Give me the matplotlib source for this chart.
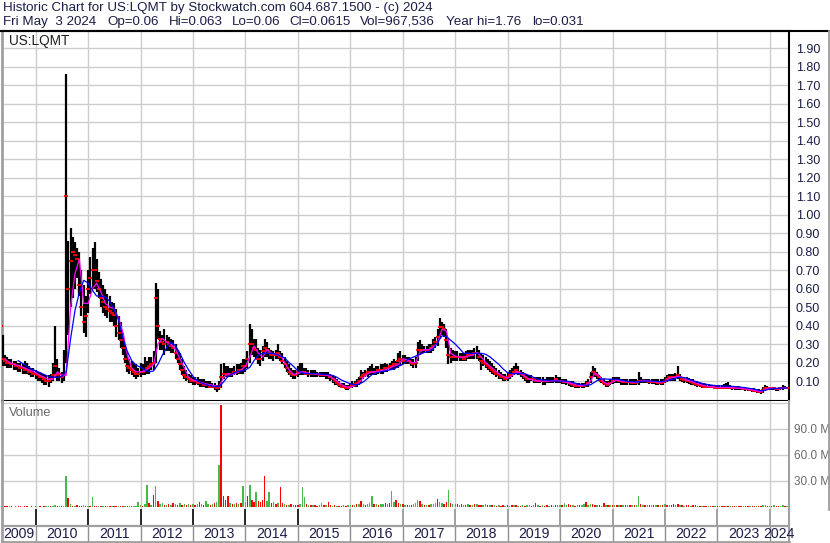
import matplotlib
matplotlib.use('Agg')

import matplotlib.pyplot as plt
import matplotlib.dates as mdates
from matplotlib.lines import Line2D
import numpy as np
import pandas as pd

W, H = 830, 543
plt.rcParams['font.family'] = ['Liberation Sans', 'DejaVu Sans']

# half-month bars (1st and 15th of each month), May 2009 .. May 2024
price_hi = [
    0.43, 0.35, 0.24, 0.23, 0.22, 0.22, 0.21, 0.21, 0.20, 0.20, 0.19, 0.21, 0.20, 0.18, 0.17, 0.17,
    0.16, 0.15, 0.15, 0.14, 0.13, 0.13, 0.13, 0.14, 0.20, 0.40, 0.22, 0.17, 0.15, 0.27, 1.76, 0.86, 0.93, 0.88, 0.85, 0.82, 0.80, 0.70, 0.62, 0.56,
    0.70, 0.77, 0.82, 0.85, 0.76, 0.69, 0.65, 0.62, 0.60, 0.57, 0.56, 0.53, 0.52, 0.49, 0.45, 0.42, 0.36, 0.30, 0.26, 0.22, 0.21, 0.20, 0.19, 0.17,
    0.20, 0.19, 0.23, 0.21, 0.23, 0.23, 0.26, 0.63, 0.60, 0.37, 0.35, 0.38, 0.35, 0.34, 0.33, 0.32, 0.30, 0.27, 0.25, 0.22, 0.18, 0.16, 0.14, 0.13,
    0.12, 0.12, 0.12, 0.11, 0.11, 0.11, 0.10, 0.10, 0.10, 0.09, 0.09, 0.08, 0.10, 0.19, 0.20, 0.18, 0.18, 0.17, 0.17, 0.18, 0.19, 0.19, 0.20, 0.22,
    0.22, 0.26, 0.41, 0.38, 0.33, 0.33, 0.28, 0.27, 0.29, 0.33, 0.31, 0.28, 0.27, 0.26, 0.27, 0.30, 0.26, 0.25, 0.23, 0.21, 0.19, 0.17, 0.16, 0.16,
    0.18, 0.20, 0.20, 0.17, 0.17, 0.16, 0.16, 0.16, 0.16, 0.15, 0.15, 0.15, 0.15, 0.15, 0.15, 0.14, 0.13, 0.12, 0.11, 0.10, 0.09, 0.09, 0.08, 0.08,
    0.09, 0.10, 0.10, 0.11, 0.12, 0.16, 0.15, 0.16, 0.17, 0.18, 0.19, 0.17, 0.18, 0.18, 0.19, 0.19, 0.20, 0.19, 0.20, 0.21, 0.22, 0.21, 0.25, 0.26,
    0.24, 0.24, 0.23, 0.23, 0.22, 0.22, 0.23, 0.31, 0.32, 0.30, 0.29, 0.29, 0.30, 0.30, 0.33, 0.34, 0.38, 0.44, 0.42, 0.41, 0.38, 0.33, 0.28, 0.27,
    0.26, 0.26, 0.25, 0.25, 0.25, 0.26, 0.27, 0.27, 0.27, 0.28, 0.29, 0.27, 0.25, 0.24, 0.23, 0.22, 0.21, 0.20, 0.18, 0.17, 0.16, 0.15, 0.14, 0.14,
    0.15, 0.16, 0.17, 0.18, 0.20, 0.18, 0.16, 0.15, 0.14, 0.13, 0.13, 0.13, 0.12, 0.12, 0.12, 0.12, 0.12, 0.11, 0.12, 0.12, 0.12, 0.12, 0.135, 0.12,
    0.12, 0.11, 0.11, 0.11, 0.10, 0.10, 0.10, 0.09, 0.09, 0.09, 0.09, 0.09, 0.10, 0.11, 0.15, 0.18, 0.17, 0.15, 0.13, 0.12, 0.11, 0.10, 0.10, 0.11,
    0.12, 0.12, 0.12, 0.12, 0.11, 0.11, 0.11, 0.11, 0.11, 0.11, 0.11, 0.11, 0.15, 0.12, 0.11, 0.11, 0.11, 0.11, 0.11, 0.11, 0.11, 0.11, 0.11, 0.11,
    0.12, 0.13, 0.14, 0.14, 0.14, 0.145, 0.18, 0.14, 0.12, 0.12, 0.12, 0.115, 0.11, 0.11, 0.10, 0.10, 0.095, 0.09, 0.09, 0.085, 0.085, 0.08, 0.08, 0.08,
    0.08, 0.08, 0.08, 0.085, 0.09, 0.095, 0.08, 0.075, 0.075, 0.075, 0.075, 0.07, 0.07, 0.07, 0.065, 0.065, 0.06, 0.06, 0.055, 0.055, 0.05, 0.07, 0.08, 0.075,
    0.07, 0.07, 0.07, 0.065, 0.065, 0.07, 0.08, 0.075, 0.063,
]
price_lo = [
    0.20, 0.18, 0.18, 0.17, 0.17, 0.17, 0.16, 0.16, 0.15, 0.15, 0.14, 0.14, 0.14, 0.13, 0.12, 0.12,
    0.11, 0.10, 0.10, 0.09, 0.08, 0.08, 0.07, 0.09, 0.10, 0.12, 0.10, 0.10, 0.09, 0.10, 0.20, 0.35, 0.50, 0.55, 0.60, 0.66, 0.56, 0.45, 0.36, 0.34,
    0.47, 0.57, 0.60, 0.60, 0.58, 0.55, 0.50, 0.47, 0.45, 0.44, 0.42, 0.42, 0.40, 0.34, 0.32, 0.28, 0.24, 0.20, 0.15, 0.14, 0.13, 0.12, 0.11, 0.12,
    0.12, 0.13, 0.13, 0.14, 0.14, 0.16, 0.16, 0.20, 0.33, 0.27, 0.27, 0.24, 0.26, 0.26, 0.25, 0.25, 0.22, 0.20, 0.16, 0.13, 0.11, 0.10, 0.09, 0.09,
    0.08, 0.08, 0.08, 0.07, 0.07, 0.07, 0.06, 0.06, 0.06, 0.06, 0.05, 0.04, 0.05, 0.06, 0.11, 0.12, 0.12, 0.12, 0.12, 0.13, 0.13, 0.14, 0.14, 0.14,
    0.15, 0.17, 0.20, 0.24, 0.23, 0.22, 0.19, 0.18, 0.21, 0.23, 0.23, 0.22, 0.22, 0.21, 0.22, 0.22, 0.21, 0.19, 0.17, 0.15, 0.13, 0.12, 0.11, 0.11,
    0.12, 0.13, 0.13, 0.13, 0.13, 0.12, 0.12, 0.12, 0.12, 0.12, 0.12, 0.12, 0.12, 0.11, 0.11, 0.10, 0.09, 0.08, 0.08, 0.07, 0.06, 0.06, 0.05, 0.05,
    0.06, 0.06, 0.07, 0.07, 0.08, 0.09, 0.11, 0.12, 0.12, 0.13, 0.13, 0.13, 0.13, 0.14, 0.14, 0.14, 0.15, 0.15, 0.16, 0.16, 0.16, 0.17, 0.17, 0.18,
    0.19, 0.19, 0.19, 0.19, 0.18, 0.17, 0.17, 0.21, 0.24, 0.25, 0.25, 0.25, 0.25, 0.25, 0.26, 0.28, 0.29, 0.33, 0.35, 0.34, 0.28, 0.19, 0.20, 0.21,
    0.21, 0.21, 0.21, 0.21, 0.21, 0.21, 0.22, 0.22, 0.22, 0.22, 0.22, 0.21, 0.16, 0.18, 0.17, 0.16, 0.15, 0.14, 0.13, 0.12, 0.11, 0.11, 0.10, 0.10,
    0.10, 0.11, 0.12, 0.13, 0.14, 0.13, 0.12, 0.11, 0.10, 0.09, 0.09, 0.10, 0.09, 0.09, 0.09, 0.09, 0.08, 0.08, 0.09, 0.09, 0.09, 0.09, 0.09, 0.09,
    0.09, 0.085, 0.085, 0.08, 0.075, 0.07, 0.07, 0.065, 0.065, 0.065, 0.065, 0.065, 0.07, 0.07, 0.09, 0.12, 0.12, 0.11, 0.10, 0.09, 0.08, 0.07, 0.07, 0.08,
    0.085, 0.09, 0.09, 0.09, 0.08, 0.08, 0.08, 0.08, 0.08, 0.08, 0.08, 0.08, 0.08, 0.09, 0.09, 0.09, 0.09, 0.085, 0.085, 0.085, 0.08, 0.08, 0.08, 0.08,
    0.09, 0.095, 0.10, 0.10, 0.10, 0.10, 0.11, 0.10, 0.095, 0.09, 0.09, 0.085, 0.08, 0.08, 0.075, 0.07, 0.07, 0.065, 0.06, 0.06, 0.06, 0.06, 0.06, 0.06,
    0.055, 0.055, 0.055, 0.055, 0.055, 0.055, 0.055, 0.05, 0.05, 0.05, 0.05, 0.05, 0.05, 0.045, 0.045, 0.045, 0.04, 0.04, 0.035, 0.035, 0.031, 0.035, 0.045, 0.05,
    0.05, 0.05, 0.05, 0.045, 0.045, 0.05, 0.05, 0.055, 0.06,
]
price_cl = [
    0.40, 0.22, 0.21, 0.20, 0.20, 0.19, 0.19, 0.18, 0.18, 0.17, 0.17, 0.16, 0.16, 0.15, 0.15, 0.14,
    0.14, 0.13, 0.12, 0.12, 0.11, 0.10, 0.10, 0.11, 0.13, 0.18, 0.13, 0.14, 0.12, 0.13, 1.10, 0.60, 0.75, 0.80, 0.78, 0.76, 0.62, 0.50, 0.42, 0.45,
    0.60, 0.66, 0.70, 0.70, 0.64, 0.60, 0.55, 0.53, 0.50, 0.49, 0.48, 0.47, 0.46, 0.40, 0.36, 0.32, 0.28, 0.22, 0.18, 0.17, 0.16, 0.15, 0.14, 0.14,
    0.15, 0.15, 0.16, 0.17, 0.18, 0.19, 0.20, 0.55, 0.40, 0.33, 0.31, 0.30, 0.31, 0.30, 0.29, 0.28, 0.25, 0.22, 0.19, 0.16, 0.13, 0.12, 0.11, 0.10,
    0.10, 0.10, 0.09, 0.09, 0.09, 0.08, 0.08, 0.08, 0.07, 0.07, 0.07, 0.06, 0.07, 0.12, 0.14, 0.14, 0.14, 0.13, 0.14, 0.15, 0.15, 0.16, 0.16, 0.18,
    0.18, 0.22, 0.30, 0.30, 0.28, 0.27, 0.22, 0.22, 0.26, 0.28, 0.27, 0.25, 0.24, 0.24, 0.24, 0.25, 0.23, 0.21, 0.19, 0.17, 0.15, 0.14, 0.13, 0.13,
    0.15, 0.15, 0.15, 0.15, 0.14, 0.14, 0.14, 0.14, 0.14, 0.14, 0.135, 0.135, 0.13, 0.13, 0.13, 0.12, 0.11, 0.10, 0.09, 0.08, 0.07, 0.07, 0.065, 0.06,
    0.07, 0.08, 0.085, 0.09, 0.10, 0.12, 0.13, 0.14, 0.15, 0.15, 0.15, 0.15, 0.15, 0.16, 0.16, 0.16, 0.17, 0.17, 0.18, 0.18, 0.19, 0.19, 0.21, 0.22,
    0.21, 0.21, 0.21, 0.21, 0.20, 0.19, 0.20, 0.27, 0.27, 0.27, 0.27, 0.27, 0.27, 0.28, 0.29, 0.31, 0.34, 0.39, 0.39, 0.38, 0.32, 0.24, 0.23, 0.23,
    0.23, 0.23, 0.23, 0.23, 0.22, 0.23, 0.24, 0.24, 0.24, 0.25, 0.25, 0.23, 0.21, 0.20, 0.19, 0.18, 0.17, 0.16, 0.15, 0.14, 0.13, 0.12, 0.12, 0.11,
    0.12, 0.13, 0.14, 0.15, 0.16, 0.15, 0.14, 0.13, 0.12, 0.11, 0.11, 0.11, 0.11, 0.10, 0.10, 0.10, 0.10, 0.10, 0.10, 0.10, 0.10, 0.10, 0.11, 0.10,
    0.10, 0.10, 0.095, 0.095, 0.09, 0.085, 0.08, 0.075, 0.075, 0.075, 0.075, 0.075, 0.08, 0.09, 0.12, 0.15, 0.14, 0.13, 0.12, 0.10, 0.09, 0.085, 0.08, 0.09,
    0.10, 0.105, 0.105, 0.10, 0.10, 0.095, 0.095, 0.095, 0.095, 0.09, 0.09, 0.09, 0.10, 0.10, 0.10, 0.10, 0.10, 0.095, 0.095, 0.095, 0.095, 0.09, 0.09, 0.095,
    0.10, 0.11, 0.12, 0.12, 0.12, 0.12, 0.13, 0.12, 0.11, 0.105, 0.10, 0.10, 0.095, 0.09, 0.085, 0.08, 0.08, 0.075, 0.07, 0.07, 0.07, 0.07, 0.07, 0.065,
    0.065, 0.065, 0.065, 0.065, 0.065, 0.065, 0.06, 0.06, 0.06, 0.06, 0.06, 0.06, 0.058, 0.055, 0.055, 0.05, 0.05, 0.045, 0.045, 0.04, 0.04, 0.05, 0.06, 0.06,
    0.06, 0.06, 0.06, 0.055, 0.055, 0.06, 0.065, 0.065, 0.0615,
]
# volume in millions of shares, same half-month bars
volume_m = [
    0.4, 0.6, 0.5, 0.4, 0.5, 0.4, 0.3, 0.4, 0.5, 0.4, 0.3, 0.5, 0.4, 0.3, 0.4, 0.3,
    0.4, 0.3, 0.4, 0.3, 0.4, 0.5, 0.6, 0.5, 0.8, 2.0, 0.8, 0.6, 0.5, 1.0, 36, 10, 3, 1.5, 1.5, 2, 1.2, 1.5, 2, 1.5,
    1.5, 1.0, 11, 1.5, 1.0, 0.8, 0.7, 0.6, 0.6, 0.5, 0.6, 0.5, 0.6, 0.5, 0.8, 0.6, 0.7, 0.9, 0.8, 0.7, 0.8, 0.9, 1.2, 6.0,
    2.5, 1.5, 3, 25, 4, 2, 14, 24, 7, 3, 4.5, 2.5, 2, 3, 2, 4.5, 3, 2, 4, 2.5, 3, 2, 3.5, 2,
    3, 2, 3, 6, 3, 2.5, 7, 3, 2.5, 3, 4, 5, 48, 117, 13, 8, 13, 4, 3, 3.5, 4, 3, 4, 24,
    5, 13, 25, 8, 6, 17, 7, 6, 8, 36, 7, 17, 4, 5, 3, 4, 23, 4, 3, 2.5, 2, 3, 2, 2.5,
    2.5, 3, 23, 11, 3, 2, 2.5, 2, 2, 1.5, 2, 4.5, 2, 2, 5, 2, 1.5, 2, 1.5, 1.5, 1.5, 2, 1.5, 2.5,
    2, 2.5, 2, 3, 3, 7, 3, 2.5, 3, 4, 13, 3, 3.5, 2.5, 3, 3, 4, 3, 4, 18, 5, 8, 4, 3,
    3, 2.5, 2, 2.5, 2, 3, 4, 8, 7, 3, 2.5, 2, 2.5, 3, 3.5, 4, 8.5, 5, 4, 3.5, 5, 19, 4, 3,
    3, 3.5, 2.5, 3, 2, 2.5, 3, 2, 2.5, 3, 3, 2, 2.5, 2, 3.5, 2, 2.5, 2, 2, 1.5, 2, 1.5, 2, 1.5,
    2, 1.5, 2, 2.5, 2, 1.5, 1.5, 2, 1.5, 2, 2, 1.5, 2.5, 4, 2, 1.5, 2, 1.5, 2, 1.5, 2, 1.5, 2, 2,
    2, 2.5, 4, 2, 3, 2, 2, 1.5, 2, 2, 2.5, 3, 5, 2.5, 3.5, 3, 2.5, 2, 2, 1.5, 4, 2, 2, 2.5,
    2, 2.5, 2, 2.5, 2, 2, 2.5, 2, 2, 2, 2, 2.5, 12, 3, 2.5, 2, 2.5, 2, 2, 2.5, 2, 2, 2.5, 2,
    3, 2.5, 2, 2, 3.5, 2.5, 3, 2, 2, 1.5, 2, 2.5, 1.5, 2, 2.5, 1.5, 1.5, 1.2, 1, 1.2, 1, 1, 1.2, 1,
    1, 0.8, 1, 0.8, 1, 0.8, 0.8, 0.7, 0.8, 1, 0.8, 0.7, 0.8, 0.7, 0.8, 1, 0.8, 1, 1.2, 1, 1.5, 2.5, 2.2, 1.5,
    1.5, 1.2, 2.5, 1.5, 1.2, 1.5, 2.5, 1.5, 1.0,
]
# g = up bar, r = down bar
volume_dir = (
    "rgrrgrrgrrgrrgrr"
    "rgrgrggrggrgrggrgrgrrrgr"
    "grgrrgrgrgrgrrgrrgrgrggg"
    "grggrgrgrggrgrgrgrgrgrgr"
    "grgrgrggrgrggrrrrgrgrgrg"
    "grgrrgrrrrggrgrgrrgrgrgr"
    "rgggrgrgrrggrgrrgrgrrgrg"
    "grgrgrgrgggrgrggrgrggrrg"
    "rgrgrgggrgrgrgggrggrrgrg"
    "grgrgrgrgrgrrggrgrgrgrrg"
    "rgrgrgrgrggrgrgrgrrgrgrg"
    "grggrrgrgrggrggrrgrgrgrg"
    "rgrgrgrgrgrggrgrgrgrgrgr"
    "grgrrgrgrgrrgrrgrgrrgrrg"
    "rgrrgrgrrgrrgrrgrrgrrggr"
    "grgrrggrg"
)

# monthly moving averages (1st of each month), May 2009 .. May 2024
ma_fast = [
    np.nan, 0.22, 0.20, 0.19, 0.185, 0.175, 0.165, 0.155,
    0.145, 0.13, 0.12, 0.11, 0.11, 0.15, 0.13, 0.13, 0.50, 0.68, 0.76, 0.52,
    0.52, 0.60, 0.63, 0.58, 0.52, 0.50, 0.49, 0.44, 0.36, 0.24, 0.17, 0.15,
    0.15, 0.155, 0.17, 0.19, 0.30, 0.33, 0.31, 0.30, 0.27, 0.22, 0.17, 0.12,
    0.105, 0.10, 0.09, 0.085, 0.08, 0.075, 0.07, 0.12, 0.14, 0.135, 0.145, 0.16,
    0.18, 0.23, 0.29, 0.25, 0.23, 0.27, 0.25, 0.245, 0.24, 0.20, 0.16, 0.135,
    0.14, 0.15, 0.145, 0.14, 0.14, 0.135, 0.135, 0.13, 0.115, 0.10, 0.08, 0.07,
    0.065, 0.075, 0.09, 0.12, 0.14, 0.15, 0.15, 0.155, 0.16, 0.17, 0.18, 0.19,
    0.22, 0.215, 0.20, 0.20, 0.26, 0.27, 0.27, 0.285, 0.31, 0.38, 0.37, 0.25,
    0.235, 0.23, 0.23, 0.235, 0.24, 0.255, 0.23, 0.20, 0.18, 0.16, 0.14, 0.125,
    0.115, 0.13, 0.15, 0.145, 0.125, 0.11, 0.105, 0.10, 0.10, 0.10, 0.10, 0.105,
    0.10, 0.095, 0.09, 0.085, 0.077, 0.075, 0.077, 0.10, 0.145, 0.125, 0.095, 0.082,
    0.095, 0.105, 0.10, 0.097, 0.095, 0.092, 0.095, 0.105, 0.10, 0.097, 0.095, 0.093,
    0.097, 0.115, 0.12, 0.125, 0.12, 0.105, 0.10, 0.09, 0.082, 0.075, 0.07, 0.068,
    0.066, 0.065, 0.066, 0.065, 0.062, 0.06, 0.059, 0.056, 0.052, 0.047, 0.043, 0.055,
    0.062, 0.06, 0.057, 0.062, 0.065,
]
ma_slow = [
    np.nan, np.nan, np.nan, np.nan, 0.21, 0.195, 0.18, 0.165,
    0.155, 0.145, 0.135, 0.125, 0.12, 0.12, 0.125, 0.15, 0.33, 0.48, 0.58, 0.645,
    0.63, 0.59, 0.56, 0.56, 0.555, 0.53, 0.49, 0.43, 0.33, 0.26, 0.21, 0.185,
    0.175, 0.16, 0.15, 0.155, 0.19, 0.24, 0.28, 0.31, 0.29, 0.25, 0.20, 0.16,
    0.125, 0.10, 0.09, 0.08, 0.075, 0.07, 0.07, 0.095, 0.125, 0.14, 0.15, 0.155,
    0.16, 0.175, 0.21, 0.24, 0.25, 0.25, 0.25, 0.245, 0.235, 0.225, 0.20, 0.18,
    0.155, 0.145, 0.14, 0.14, 0.14, 0.138, 0.136, 0.135, 0.13, 0.12, 0.105, 0.095,
    0.085, 0.08, 0.083, 0.095, 0.115, 0.135, 0.145, 0.15, 0.155, 0.16, 0.165, 0.18,
    0.19, 0.215, 0.225, 0.235, 0.245, 0.255, 0.26, 0.275, 0.31, 0.345, 0.34, 0.32,
    0.30, 0.275, 0.25, 0.25, 0.25, 0.25, 0.25, 0.245, 0.23, 0.21, 0.19, 0.165,
    0.145, 0.14, 0.14, 0.14, 0.14, 0.13, 0.12, 0.11, 0.105, 0.105, 0.10, 0.10,
    0.10, 0.10, 0.098, 0.092, 0.085, 0.08, 0.077, 0.08, 0.095, 0.11, 0.112, 0.11,
    0.11, 0.11, 0.105, 0.10, 0.097, 0.095, 0.097, 0.10, 0.10, 0.10, 0.098, 0.097,
    0.10, 0.105, 0.11, 0.12, 0.12, 0.115, 0.105, 0.098, 0.09, 0.085, 0.08, 0.077,
    0.075, 0.073, 0.072, 0.072, 0.07, 0.068, 0.065, 0.062, 0.058, 0.053, 0.047, 0.05,
    0.057, 0.06, 0.061, 0.062, 0.063,
]

years = list(range(2009, 2025))
price_ticks = [round(0.1 * k, 2) for k in range(1, 20)]
volume_ticks = [30, 60, 90, 120]
volume_tick_labels = ["30.0 M", "60.0 M", "90.0 M", ""]

header_1 = "Historic Chart for US:LQMT by Stockwatch.com 604.687.1500 - (c) 2024"
header_2 = ["Fri May  3 2024", "Op=0.06", "Hi=0.063", "Lo=0.06", "Cl=0.0615",
            "Vol=967,536", "Year hi=1.76", "lo=0.031"]
header_2_x = [3, 107, 169, 232, 289, 360, 446, 532]  # pixel columns

# ---------------------------------------------------------------------------
n = min(len(price_hi), len(price_lo), len(price_cl), len(volume_m), len(volume_dir))
bar_x = mdates.date2num(pd.date_range("2009-05-01", periods=n, freq="SMS"))
m = min(len(ma_fast), len(ma_slow))
ma_x = mdates.date2num(pd.date_range("2009-05-01", periods=m, freq="MS"))
x_left = mdates.date2num(pd.Timestamp("2009-05-11"))
x_right = mdates.date2num(pd.Timestamp("2024-05-14"))
year_x = [mdates.date2num(pd.Timestamp(f"{y}-01-01")) for y in years[1:]]

TEXT = "#1c1c48"
GRID = "#cdcdcd"
FRAME = "#a0a0a0"


def box(x0, y0, x1, y1):
    """pixel box (from top-left) -> figure rect"""
    return [x0 / W, 1 - y1 / H, (x1 - x0) / W, (y1 - y0) / H]


fig = plt.figure(figsize=(W / 100, H / 100), dpi=100)
ax_p = fig.add_axes(box(2, 31, 789, 401))
ax_v = fig.add_axes(box(2, 401, 789, 509))
ax_d = fig.add_axes(box(2, 509, 789, 542))

for ax in (ax_p, ax_v, ax_d):
    ax.set_xlim(x_left, x_right)
    ax.set_xticks(year_x)
    ax.tick_params(axis="x", length=0, labelbottom=False)
    ax.set_facecolor("white")

# price panel
ax_p.vlines(bar_x, price_lo[:n], price_hi[:n], color="black", lw=1.6, zorder=3)
ax_p.plot(bar_x, price_cl[:n], ls="none", marker="_", ms=3, mew=1.3, color="red", zorder=4)
ax_p.plot(ma_x, ma_fast[:m], color="#ff00ff", lw=0.9, zorder=5)
ax_p.plot(ma_x, ma_slow[:m], color="#0000ff", lw=0.9, zorder=6)
ax_p.set_ylim(-0.008, 1.994)
ax_p.set_yticks(price_ticks)
ax_p.set_yticklabels([f"{v:.2f}" for v in price_ticks])
ax_p.yaxis.tick_right()
ax_p.tick_params(axis="y", length=0, pad=5, labelsize=9, labelcolor=TEXT)
ax_p.grid(True, color=GRID, lw=1.0, zorder=0)
ax_p.set_axisbelow(True)
ax_p.text(7 / 787, 1 - 10 / 370, "US:LQMT", transform=ax_p.transAxes,
          fontsize=9.8, color="#202020", va="center", ha="left")

# volume panel
vol_colors = ["#48b848" if c == "g" else "#ff0000" for c in volume_dir[:n]]
ax_v.bar(bar_x, volume_m[:n], width=10, color=vol_colors, lw=0, zorder=3)
ax_v.set_ylim(-2.5, 122)
ax_v.set_yticks(volume_ticks)
ax_v.set_yticklabels(volume_tick_labels)
ax_v.yaxis.tick_right()
ax_v.tick_params(axis="y", length=0, pad=3.5, labelsize=8.5, labelcolor="#6a6a6a")
ax_v.grid(True, color=GRID, lw=1.0, zorder=0)
ax_v.set_axisbelow(True)
ax_v.text(7 / 787, 1 - 12 / 108, "Volume", transform=ax_v.transAxes,
          fontsize=9.2, color="#6a6a6a", va="center", ha="left")

# date strip
ax_d.set_ylim(0, 1)
ax_d.set_yticks([])
split = 16 / 33  # tick row above, label row below
for y, xv in zip(years[1:], year_x):
    ax_d.plot([xv, xv], [split, 1], color="black" if y <= 2015 else "#909090", lw=1.2)
    ax_d.plot([xv, xv], [0, split], color="#909090", lw=1.0)
ax_d.axhline(split, color=FRAME, lw=1.6)
edges = [x_left] + year_x + [x_right]
for y, a, b in zip(years, edges[:-1], edges[1:]):
    ax_d.text((a + b) / 2, split / 2, str(y), ha="center", va="center",
              fontsize=10.2, color=TEXT)

# frames
for side in ("top", "right", "bottom"):
    ax_p.spines[side].set_color("black")
    ax_p.spines[side].set_linewidth(1.5)
ax_p.spines["left"].set_color(FRAME)
ax_p.spines["left"].set_linewidth(2)
ax_v.spines["top"].set_visible(False)
ax_v.spines["right"].set_color(FRAME)
ax_v.spines["right"].set_linewidth(1.5)
ax_v.spines["bottom"].set_color(GRID)
ax_v.spines["left"].set_color(FRAME)
ax_v.spines["left"].set_linewidth(2)
ax_d.spines["top"].set_visible(False)
ax_d.spines["right"].set_color(FRAME)
ax_d.spines["right"].set_linewidth(1.5)
ax_d.spines["bottom"].set_color(FRAME)
ax_d.spines["bottom"].set_linewidth(2)
ax_d.spines["left"].set_color(FRAME)
ax_d.spines["left"].set_linewidth(2)

fig.add_artist(Line2D([0, 1], [1 - 30.5 / H] * 2, color="black", lw=1.5))
fig.add_artist(Line2D([829 / W] * 2, [1 - 31 / H, 1 - 509 / H], color=FRAME, lw=2))

# header
fig.text(3 / W, 1 - 11.5 / H, header_1, fontsize=9.6, color=TEXT, va="baseline")
for label, px in zip(header_2, header_2_x):
    fig.text(px / W, 1 - 25 / H, label, fontsize=9.6, color=TEXT, va="baseline")

fig.savefig("out.png", dpi=100)
